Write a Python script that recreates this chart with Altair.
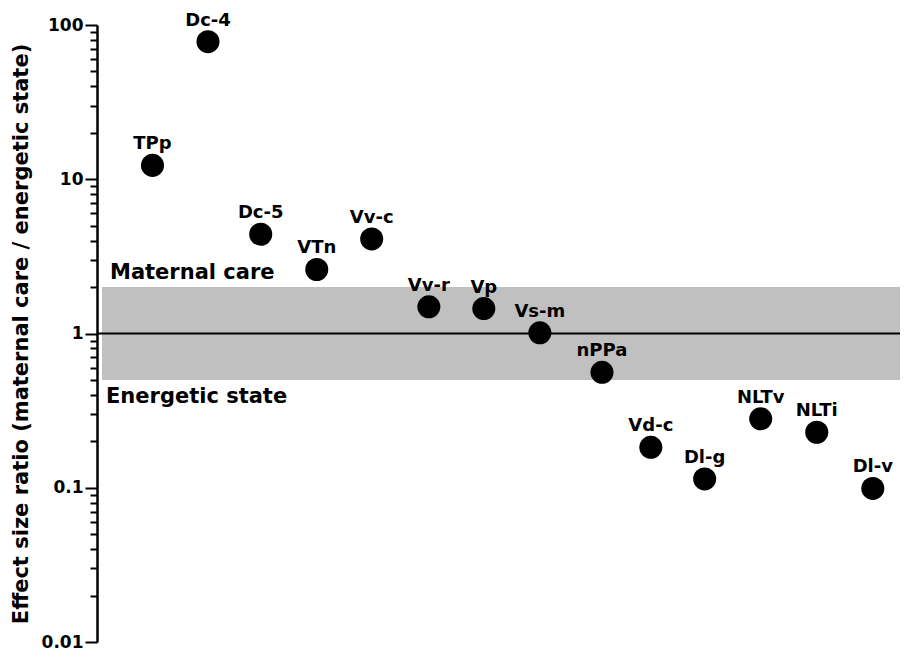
import altair as alt
import pandas as pd

labels = ["TPp", "Dc-4", "Dc-5", "VTn", "Vv-c", "Vv-r", "Vp", "Vs-m",
          "nPPa", "Vd-c", "Dl-g", "NLTv", "NLTi", "Dl-v"]
x_pos = [1, 2, 2.95, 3.96, 4.95, 5.98, 6.97, 7.98, 9.1, 9.98, 10.95, 11.96, 12.97, 13.98]
ratio = [12.3, 78, 4.4, 2.6, 4.1, 1.49, 1.45, 1.01, 0.56, 0.183, 0.114, 0.28, 0.229, 0.099]

band_low, band_high = 0.5, 2.0
ref_line = 1.0
major_ticks = [0.01, 0.1, 1, 10, 100]
tick_values = [round(k * d, 6) for d in [0.01, 0.1, 1, 10] for k in range(1, 10)] + [100]

FONT = "DejaVu Sans"
W, H = 803, 617

df = pd.DataFrame({"label": labels, "x": x_pos, "y": ratio})

xscale = alt.Scale(domain=[0, 14.47], nice=False, zero=False)
yscale = alt.Scale(type="log", domain=[0.01, 100], nice=False)

major_test = "indexof(%s, datum.value) >= 0" % str(major_ticks)

yaxis = alt.Axis(
    values=tick_values,
    labelExpr="%s ? format(datum.value, '~g') : ''" % major_test,
    labelOverlap=False,
    labelFont=FONT, labelFontSize=17, labelFontWeight="bold", labelColor="black",
    labelPadding=2,
    tickSize={"condition": {"test": major_test, "value": 12}, "value": 7},
    tickWidth=2, tickColor="black",
    domainWidth=2.5, domainColor="black",
    grid=False,
    title="Effect size ratio (maternal care / energetic state)",
    titleFont=FONT, titleFontSize=21, titleFontWeight="bold", titleColor="black",
    titlePadding=10,
)

band_df = pd.DataFrame({"lo": [band_low], "hi": [band_high]})
band = alt.Chart(band_df).mark_rect(color="#c0c0c0").encode(
    x=alt.value(5), x2=alt.value(W),
    y=alt.Y("lo:Q", scale=yscale, axis=yaxis),
    y2="hi:Q",
)

line = alt.Chart(pd.DataFrame({"v": [ref_line]})).mark_rule(color="black", strokeWidth=2).encode(
    x=alt.value(0), x2=alt.value(W),
    y=alt.Y("v:Q", scale=yscale),
)

pts = alt.Chart(df).mark_circle(size=530, color="black", opacity=1).encode(
    x=alt.X("x:Q", scale=xscale, axis=None),
    y=alt.Y("y:Q", scale=yscale),
)

txt = alt.Chart(df).mark_text(font=FONT, fontSize=18, fontWeight="bold", baseline="alphabetic",
                              dy=-16, color="black").encode(
    x=alt.X("x:Q", scale=xscale, axis=None),
    y=alt.Y("y:Q", scale=yscale),
    text="label:N",
)

region_df = pd.DataFrame({"name": ["Maternal care", "Energetic state"], "y": [2.25, 0.356],
                          "px": [13, 9]})
region = alt.Chart(region_df).mark_text(font=FONT, fontSize=21, fontWeight="bold",
                                        baseline="alphabetic", align="left", color="black").encode(
    x=alt.X("px:Q", scale=None),
    y=alt.Y("y:Q", scale=yscale),
    text="name:N",
)

chart = alt.layer(band, line, pts, txt, region).properties(
    width=W, height=H,
    autosize=alt.AutoSizeParams(type="none"),
    padding={"left": 89, "top": 17, "right": 0, "bottom": 10},
).configure_view(stroke=None)

chart.save("out.html", embed_options={"renderer": "svg", "actions": False})
